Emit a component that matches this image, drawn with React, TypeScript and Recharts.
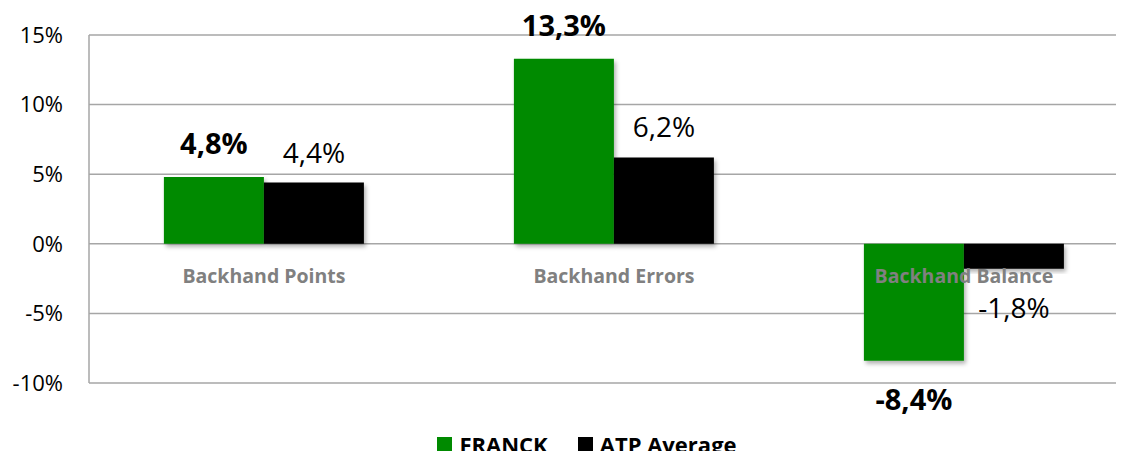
import { BarChart, Bar, XAxis, YAxis, CartesianGrid, Legend, LabelList } from "recharts";

const categories = ["Backhand Points", "Backhand Errors", "Backhand Balance"];
const franckValues = [4.8, 13.3, -8.4];
const atpValues = [4.4, 6.2, -1.8];
const yTicks = [-10, -5, 0, 5, 10, 15];

const data = categories.map((name, i) => ({
  name,
  franck: franckValues[i],
  atp: atpValues[i],
}));

const FONT = "'Open Sans', sans-serif";
const GREEN = "#008a00";
const GRID = "#a6a6a6";
const W = 1124;
const CHART_W = 1139; // plot runs past the right edge, like the original
const H = 459;
const TOP = 35;
const BOTTOM = 76;
const DOMAIN: [number, number] = [-10, 15];

// y of the 0% line, worked out from the plot box and the axis domain
const zeroY = TOP + ((H - TOP - BOTTOM) * DOMAIN[1]) / (DOMAIN[1] - DOMAIN[0]);

const fmt = (v: number) => `${v.toFixed(1).replace(".", ",")}%`;

function CategoryTick({ x, payload }: any) {
  return (
    <text
      x={x}
      y={zeroY + 39}
      textAnchor="middle"
      fontFamily={FONT}
      fontSize={19.5}
      fontWeight={700}
      fill="#808080"
    >
      {payload.value}
    </text>
  );
}

function makeLabel(bold: boolean) {
  return (props: any) => {
    const { x, y, width, height, value } = props;
    const top = Math.min(y, y + height);
    const bottom = Math.max(y, y + height);
    const ty = value >= 0 ? top - (bold ? 23 : 20) : bottom + 49;
    return (
      <text
        x={x + width / 2}
        y={ty}
        textAnchor="middle"
        fontFamily={FONT}
        fontSize={bold ? 29 : 28}
        fontWeight={bold ? 700 : 400}
        fill="#000"
      >
        {fmt(value)}
      </text>
    );
  };
}

function LegendContent() {
  const items = [
    { label: "FRANCK", color: GREEN },
    { label: "ATP Average", color: "#000" },
  ];
  return (
    <div style={{ display: "flex", justifyContent: "center", fontFamily: FONT, paddingLeft: 35, height: 30, alignItems: "center" }}>
      {items.map((it) => (
        <div key={it.label} style={{ display: "flex", alignItems: "center", margin: "0 15px" }}>
          <span style={{ width: 15, height: 15, background: it.color, display: "inline-block", marginRight: 7 }} />
          <span style={{ fontSize: 22, fontWeight: 700, color: "#000" }}>{it.label}</span>
        </div>
      ))}
    </div>
  );
}

export default function App() {
  return (
    <div style={{ margin: -8, width: W, height: H, overflow: "hidden", background: "#fff" }}>
      <BarChart
        width={CHART_W}
        height={H}
        data={data}
        margin={{ top: TOP, right: 0, left: 0, bottom: 0 }}
        barCategoryGap="21.4%"
        barGap={0}
      >
        <defs>
          <filter id="shadow" x="-10%" y="-10%" width="130%" height="130%">
            <feDropShadow dx="2" dy="3" stdDeviation="2" floodColor="#000" floodOpacity="0.3" />
          </filter>
        </defs>
        <CartesianGrid vertical={false} stroke={GRID} strokeWidth={1.5} />
        <YAxis
          width={89}
          domain={DOMAIN}
          ticks={yTicks}
          tickFormatter={(v: number) => `${v}%`}
          tickSize={0}
          tickMargin={26}
          axisLine={{ stroke: GRID, strokeWidth: 1.5 }}
          tick={{ fontFamily: FONT, fontSize: 22, fill: "#000" }}
        />
        <Bar dataKey="franck" name="FRANCK" fill={GREEN} filter="url(#shadow)" isAnimationActive={false}>
          <LabelList dataKey="franck" content={makeLabel(true)} />
        </Bar>
        <Bar dataKey="atp" name="ATP Average" fill="#000" filter="url(#shadow)" isAnimationActive={false}>
          <LabelList dataKey="atp" content={makeLabel(false)} />
        </Bar>
        <XAxis
          dataKey="name"
          height={BOTTOM - 30}
          axisLine={false}
          tickLine={false}
          tick={<CategoryTick />}
        />
        <Legend verticalAlign="bottom" height={30} content={<LegendContent />} />
      </BarChart>
    </div>
  );
}
